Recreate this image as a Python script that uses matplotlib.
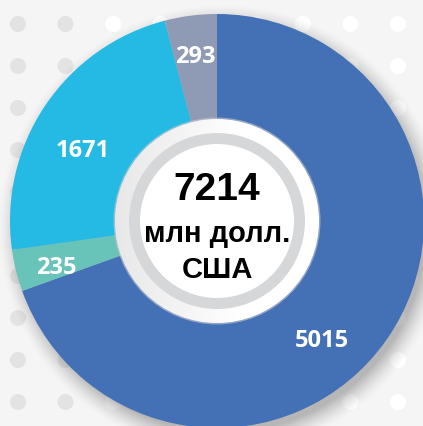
import numpy as np
import matplotlib
matplotlib.use('Agg')
import matplotlib.pyplot as plt
from matplotlib.patches import Circle

# ---- data ----
values = [5015, 235, 1671, 293]
labels = ['5015', '235', '1671', '293']
colors = ['#4470b5', '#68c3b9', '#25bae3', '#8f9bb5']
total_value = '7214'
unit_lines = ['млн долл.', 'США']

# ---- layout / style ----
W, H = 423, 426
BG = '#f5f5f5'
label_r = [0.77, 0.81, 0.73, 0.80]          # label radius as fraction of R
label_shift = [-13.6, 2.4, 6.0, 0.3]        # degrees added to the wedge mid-angle

fig = plt.figure(figsize=(W / 100, H / 100), dpi=100)
fig.patch.set_facecolor(BG)
ax = fig.add_axes([0, 0, 1, 1])
ax.set_facecolor(BG)

cx, cy = 217, H - 221
R = 207

# background dots
xs = 18 + 47.5 * np.arange(9)
ys = 24 + 42 * np.arange(10)
for x in xs:
    for y in ys:
        c = '#e3e3e3' if x < 90 else '#ffffff'
        ax.add_patch(Circle((x, H - y), 8, facecolor=c, lw=0, zorder=1))

# soft drop shadow behind the donut
yy, xx = np.mgrid[0:H, 0:W]
d = np.hypot(xx + 0.5 - (cx + 6), yy + 0.5 - (cy - 8))
blur = 22.0
a = np.clip(1 - (d - (R - 4)) / blur, 0, 1) ** 1.5 * 0.40
shadow = np.zeros((H, W, 4))
shadow[..., :3] = 0.35
shadow[..., 3] = a
ax.imshow(shadow, extent=(0, W, 0, H), origin='lower', zorder=2, interpolation='bilinear')

wedges, texts = ax.pie(values, colors=colors, startangle=90, counterclock=False,
                       radius=R, center=(cx, cy), labels=labels, labeldistance=0.78,
                       wedgeprops=dict(linewidth=0, zorder=3),
                       textprops=dict(color='white', fontsize=17, fontweight='bold',
                                      family=['Open Sans', 'DejaVu Sans'],
                                      ha='center', va='center'))
for w, t, lr, sh in zip(wedges, texts, label_r, label_shift):
    mid = np.deg2rad((w.theta1 + w.theta2) / 2 + sh)
    t.set_position((cx + lr * R * np.cos(mid), cy + lr * R * np.sin(mid)))
    t.set_ha('center'); t.set_va('center'); t.set_zorder(6)

# center rings (outer white ring with a faint grey gradient on the left)
ax.add_patch(Circle((cx, cy), 103.5, facecolor='#c8cacc', alpha=0.6, lw=0, zorder=4))
ax.add_patch(Circle((cx, cy), 102, facecolor='#ffffff', lw=0, zorder=4))
gx = np.linspace(0, 1, 64)[None, :].repeat(4, axis=0)
grad = np.zeros((4, 64, 4))
grad[..., :3] = 0.80
grad[..., 3] = np.clip(1 - gx * 1.6, 0, 1) * 0.45
gim = ax.imshow(grad, extent=(cx - 102, cx + 102, cy - 102, cy + 102), origin='lower',
                zorder=4.1, interpolation='bilinear')
clip = Circle((cx, cy), 102, transform=ax.transData)
gim.set_clip_path(clip)
ax.add_patch(Circle((cx, cy), 88, facecolor='#d6d7d8', lw=0, zorder=4.2))
ax.add_patch(Circle((cx, cy), 77, facecolor='#ffffff', lw=0, zorder=4.3))

cfont = ['Liberation Sans Narrow', 'Liberation Sans', 'DejaVu Sans']
ax.text(cx, H - 190, total_value, ha='center', va='center', fontsize=28,
        fontweight='bold', family=cfont, color='#000000', zorder=7)
ax.text(cx, H - 234, unit_lines[0], ha='center', va='center', fontsize=21,
        fontweight='bold', family=cfont, color='#000000', zorder=7)
ax.text(cx, H - 270, unit_lines[1], ha='center', va='center', fontsize=21,
        fontweight='bold', family=cfont, color='#000000', zorder=7)

ax.set_xlim(0, W)
ax.set_ylim(0, H)
ax.set_aspect('auto')
ax.axis('off')

fig.savefig('out.png', dpi=100, facecolor=BG)
